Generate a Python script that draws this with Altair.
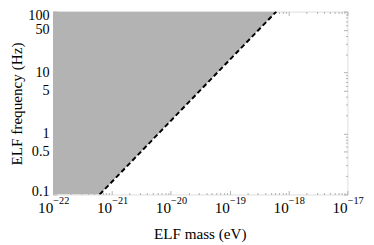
import math
import altair as alt
import pandas as pd

# Data
area_mass = [1e-22, 6.2e-22, 6.2e-19]
area_low = [0.1, 0.1, 100]
area_high = [100, 100, 100]

line_mass = [6.2e-22, 6.2e-19]
line_freq = [0.1, 100]

x_major = [1e-22, 1e-21, 1e-20, 1e-19, 1e-18, 1e-17]
x_base = "10"
x_exps = ["−22", "−21", "−20", "−19", "−18", "−17"]
y_major = [0.1, 0.5, 1, 5, 10, 50, 100]
y_labels = ["0.1", "0.5", "1", "5", "10", "50", "100"]

x_minor = [m * 10.0 ** e for e in range(-22, -17) for m in range(2, 10)]
y_minor = [m * 10.0 ** e for e in range(-1, 2) for m in (2, 3, 4, 6, 7, 8, 9)]

FONT = "Liberation Serif"
TICK = "#b0b0b0"

area_df = pd.DataFrame({"m": area_mass, "lo": area_low, "hi": area_high})
line_df = pd.DataFrame({"m": line_mass, "f": line_freq})

xs = alt.Scale(type="log", domain=[1e-22, 1e-17], nice=False)
ys = alt.Scale(type="log", domain=[0.1, 100], nice=False)

xexpr = ""
for v, lab in zip(x_major, x_exps):
    xexpr += f"round(log(datum.value)/LN10) == {round(math.log10(v))} ? '{lab}' : "
xexpr += "''"

yexpr = ""
for v, lab in zip(y_major, y_labels):
    yexpr += f"abs(datum.value - {v}) < 1e-9 ? '{lab}' : "
yexpr += "''"


def tick_axis(orient, values, size):
    return alt.Axis(orient=orient, values=values, labels=False, domain=False,
                    grid=False, ticks=True, tickSize=size, tickColor=TICK,
                    tickWidth=1, offset=-size, title=None)


area = alt.Chart(area_df).mark_area(color="#b3b3b3", clip=True).encode(
    x=alt.X("m:Q", scale=xs, axis=alt.Axis(
        orient="bottom", values=x_major, labelExpr=f"'{x_base}'",
        ticks=False, tickSize=0, domain=False, grid=False,
        labelFont=FONT, labelFontSize=15.5, labelColor="black",
        labelBaseline="alphabetic", labelPadding=18, labelOffset=-8,
        labelFlush=False, labelOverlap=False,
        title="ELF mass (eV)", titleFont=FONT, titleFontSize=15.5,
        titleFontWeight="normal", titleColor="black",
        titleBaseline="alphabetic", titleY=45, titleX=150)),
    y=alt.Y("lo:Q", scale=ys, axis=alt.Axis(
        orient="left", values=y_major, labelExpr=yexpr,
        ticks=False, tickSize=0, domain=False, grid=False,
        labelFont=FONT, labelFontSize=14.5, labelColor="black",
        labelPadding=4, labelFlush=False, labelOverlap=False,
        labelOffset={"condition": [
            {"test": "datum.value > 99", "value": 4},
            {"test": "datum.value < 0.11", "value": -3}],
            "value": 0},
        title="ELF frequency (Hz)", titleFont=FONT, titleFontSize=15.5,
        titleFontWeight="normal", titleColor="black",
        titleBaseline="alphabetic", titleX=-32, titleY=94)),
    y2="hi:Q",
)

line = alt.Chart(line_df).mark_line(color="black", strokeWidth=2,
                                    strokeDash=[5, 3], clip=True).encode(
    x=alt.X("m:Q", scale=xs, axis=alt.Axis(
        orient="bottom", values=x_major, labelExpr=xexpr,
        ticks=False, tickSize=0, domain=False, grid=False,
        labelFont=FONT, labelFontSize=10.5, labelColor="black",
        labelBaseline="alphabetic", labelPadding=9, labelOffset=8,
        labelFlush=False, labelOverlap=False, title=None)),
    y=alt.Y("f:Q", scale=ys, axis=tick_axis("left", y_major, 4)),
)


def ghost(xaxis, yaxis):
    return alt.Chart(line_df).mark_point(opacity=0).encode(
        x=alt.X("m:Q", scale=xs, axis=xaxis),
        y=alt.Y("f:Q", scale=ys, axis=yaxis),
    )


chart = alt.layer(
    area, line,
    ghost(tick_axis("bottom", x_major, 4), tick_axis("left", y_minor, 2)),
    ghost(tick_axis("bottom", x_minor, 2), tick_axis("right", y_major, 4)),
    ghost(tick_axis("top", x_major, 4), tick_axis("right", y_minor, 2)),
    ghost(tick_axis("top", x_minor, 2), None),
).resolve_axis(x="independent", y="independent").properties(
    width=301, height=187,
    autosize=alt.AutoSizeParams(type="none"),
    padding={"left": 46, "top": 1, "right": 19, "bottom": 49},
).configure_view(stroke="#a0a0a0", strokeWidth=1).configure(
    background="white")

chart.save("out.html", embed_options={"renderer": "svg", "actions": False})
